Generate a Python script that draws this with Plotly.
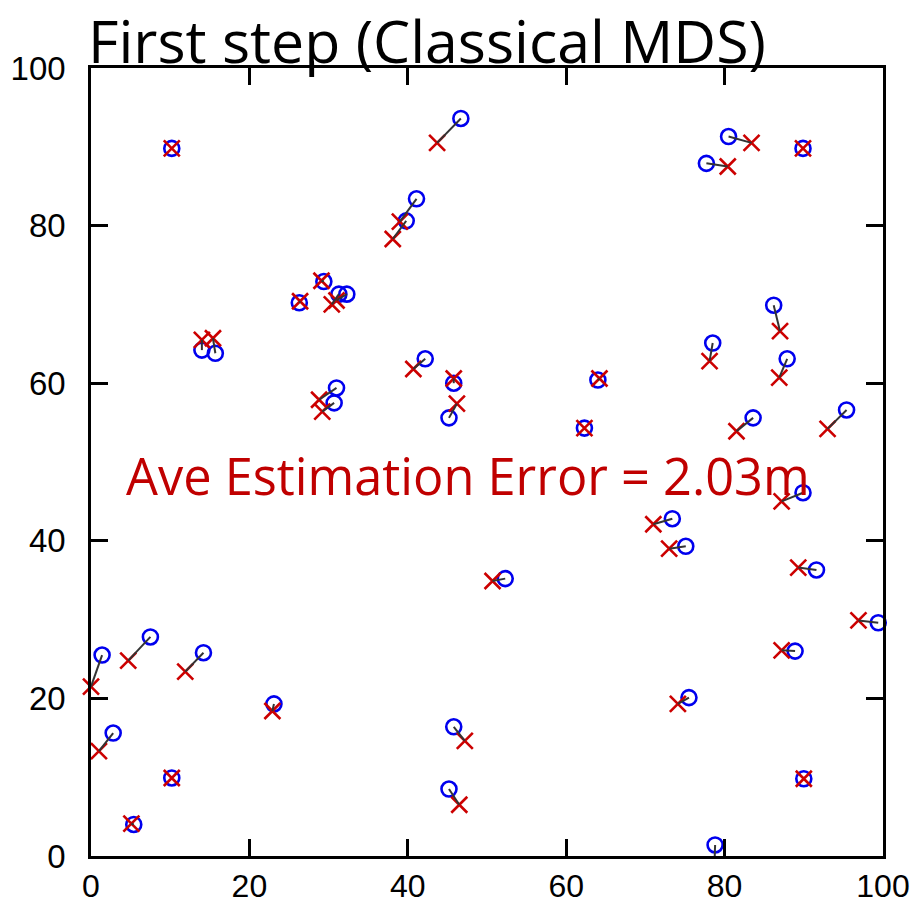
import plotly.graph_objects as go

# True node positions (blue circles)
true_x = [10.2, 46.7, 80.5, 77.7, 89.9, 41.1, 39.8, 26.3, 29.4, 31.3, 32.3, 14.0, 15.7,
          31.0, 30.7, 42.2, 45.8, 45.2, 64.0, 62.3, 52.3, 73.4, 75.1, 78.5, 87.9, 86.2,
          83.6, 95.4, 89.9, 91.6, 99.4, 88.9, 75.5, 90.0, 78.8, 45.8, 45.2, 1.4, 7.5,
          14.2, 2.8, 23.1, 10.2, 5.4]
true_y = [89.8, 93.6, 91.3, 87.9, 89.8, 83.4, 80.6, 70.2, 72.9, 71.3, 71.3, 64.2, 63.8,
          59.4, 57.5, 63.1, 60.0, 55.6, 60.4, 54.3, 35.2, 42.8, 39.3, 65.1, 63.1, 69.9,
          55.6, 56.6, 46.1, 36.3, 29.6, 26.0, 20.1, 9.8, 1.4, 16.4, 8.5, 25.5, 27.8,
          25.8, 15.6, 19.3, 9.9, 4.0]
# Estimated positions (red crosses)
est_x = [10.2, 43.7, 83.4, 80.4, 89.9, 39.0, 38.1, 26.4, 29.1, 30.4, 31.0, 14.0, 15.4,
         28.8, 29.2, 40.7, 45.8, 46.2, 64.2, 62.3, 50.7, 71.0, 73.0, 78.1, 86.9, 87.0,
         81.5, 93.0, 87.2, 89.3, 96.9, 87.2, 74.1, 90.0, 78.7, 47.2, 46.5, 0.0, 4.7,
         11.9, 1.0, 22.9, 10.2, 5.1]
est_y = [89.8, 90.5, 90.5, 87.5, 89.8, 80.5, 78.3, 70.4, 73.0, 70.0, 70.5, 65.5, 65.7,
         57.9, 56.4, 61.8, 60.6, 57.4, 60.6, 54.3, 34.9, 42.1, 39.0, 62.8, 60.7, 66.6,
         53.9, 54.2, 45.0, 36.6, 29.9, 26.1, 19.3, 9.8, -1.8, 14.6, 6.5, 21.5, 24.8,
         23.4, 13.3, 18.4, 9.9, 4.1]

title_text = "First step (Classical MDS)"
error_text = "Ave Estimation Error = 2.03m"
x_ticks = [0, 20, 40, 60, 80, 100]
y_ticks = [0, 20, 40, 60, 80, 100]

# connecting segments
seg_x, seg_y = [], []
for tx, ty, ex, ey in zip(true_x, true_y, est_x, est_y):
    seg_x += [tx, ex, None]
    seg_y += [ty, ey, None]

# markers only drawn if centre lies inside the axes (like the original)
vis_ex = [x if (0 <= x <= 100 and 0 <= y <= 100) else None for x, y in zip(est_x, est_y)]
vis_ey = [y if (0 <= x <= 100 and 0 <= y <= 100) else None for x, y in zip(est_x, est_y)]

fig = go.Figure()
fig.add_trace(go.Scatter(x=true_x, y=true_y, mode="markers", cliponaxis=False,
                         marker=dict(symbol="circle-open", size=15, color="#0000ee",
                                     line=dict(width=2.6, color="#0000ee")),
                         showlegend=False, hoverinfo="skip"))
fig.add_trace(go.Scatter(x=vis_ex, y=vis_ey, mode="markers", cliponaxis=False,
                         marker=dict(symbol="x-thin-open", size=16, color="#cc0000",
                                     line=dict(width=2.6, color="#cc0000")),
                         showlegend=False, hoverinfo="skip"))
fig.add_trace(go.Scatter(x=seg_x, y=seg_y, mode="lines",
                         line=dict(color="#333333", width=2),
                         showlegend=False, hoverinfo="skip"))

axis_common = dict(
    showline=True, linecolor="black", linewidth=2.5, mirror="ticks",
    ticks="inside", ticklen=17, tickwidth=2.5, tickcolor="black",
    showgrid=False, zeroline=False, automargin=False,
)
fig.update_xaxes(range=[0, 100], tickvals=x_ticks, ticktext=[str(v) for v in x_ticks],
                 ticklabelstandoff=0,
                 tickfont=dict(family="Liberation Sans, Arial", size=32, color="black"),
                 **axis_common)
fig.update_yaxes(range=[0, 100], tickvals=y_ticks, ticktext=[str(v) for v in y_ticks],
                 ticklabelstandoff=16,
                 tickfont=dict(family="Liberation Sans, Arial", size=33, color="black"),
                 **axis_common)

fig.add_annotation(x=0, y=1, xref="paper", yref="paper", xanchor="left", yanchor="bottom",
                   xshift=-4, yshift=-13, borderpad=0, text=title_text, showarrow=False,
                   font=dict(family="Open Sans", size=59, color="black"))
fig.add_annotation(x=4.2, y=48.3, xref="x", yref="y", xanchor="left", yanchor="middle",
                   text=error_text, showarrow=False,
                   font=dict(family="Open Sans", size=50.5, color="#c00000"))

fig.update_layout(width=916, height=903, margin=dict(l=91, r=33, t=68, b=47),
                  paper_bgcolor="white", plot_bgcolor="white")
fig.write_html("out.html")
